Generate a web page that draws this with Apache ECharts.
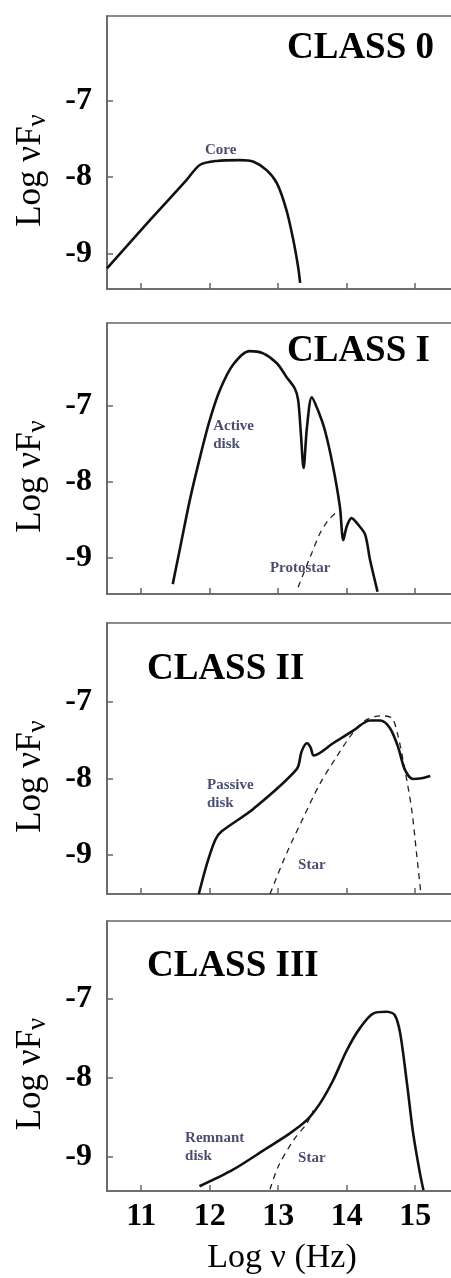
<!DOCTYPE html>
<html>
<head>
<meta charset="utf-8">
<script src="https://cdn.jsdelivr.net/npm/echarts@6/dist/echarts.min.js"></script>
<style>
  html, body { margin: 0; padding: 0; background: #fff; }
  #chart { width: 451px; height: 1278px; }
</style>
</head>
<body>
<div id="chart"></div>
<script>
  // tick values
  const xTicks = [11, 12, 13, 14, 15];
  const yTicks = [-9, -8, -7];
  const classNames = ['CLASS 0', 'CLASS I', 'CLASS II', 'CLASS III'];

  // SED curves, [log nu, log nuFnu]
  const class0Core = [[10.5, -9.19], [11.13, -8.56], [11.66, -8.04], [11.86, -7.84], [12.10, -7.79],
    [12.44, -7.78], [12.64, -7.80], [12.83, -7.91], [12.98, -8.08], [13.12, -8.43],
    [13.22, -8.82], [13.29, -9.17], [13.32, -9.38]];

  const class1Disk = [[11.46, -9.35], [11.57, -8.86], [11.71, -8.24], [11.86, -7.67], [12.00, -7.19],
    [12.15, -6.79], [12.34, -6.46], [12.58, -6.28], [12.78, -6.31], [12.98, -6.44],
    [13.12, -6.62], [13.24, -6.77], [13.29, -6.92], [13.33, -7.36], [13.37, -7.82],
    [13.42, -7.28], [13.49, -6.89], [13.58, -7.06], [13.68, -7.32], [13.80, -7.80],
    [13.90, -8.33], [13.95, -8.77], [14.00, -8.59], [14.07, -8.48], [14.17, -8.57],
    [14.27, -8.70], [14.34, -9.03], [14.45, -9.45]];
  const class1Protostar = [[13.29, -9.39], [13.49, -8.94], [13.61, -8.68], [13.73, -8.51], [13.88, -8.38]];

  const class2Disk = [[11.84, -9.52], [11.96, -9.12], [12.08, -8.81], [12.17, -8.70], [12.64, -8.40],
    [13.27, -7.88], [13.34, -7.65], [13.42, -7.54], [13.47, -7.59], [13.52, -7.70],
    [13.80, -7.54], [14.10, -7.37], [14.34, -7.24], [14.49, -7.24], [14.63, -7.34],
    [14.75, -7.59], [14.85, -7.89], [14.97, -8.01], [15.09, -8.00], [15.22, -7.97]];
  const class2Star = [[12.88, -9.52], [13.12, -8.99], [13.37, -8.51], [13.61, -8.07], [13.85, -7.72],
    [14.10, -7.39], [14.29, -7.23], [14.49, -7.18], [14.66, -7.21], [14.75, -7.45],
    [14.85, -7.89], [14.95, -8.42], [15.02, -8.99], [15.08, -9.49]];

  const class3Disk = [[11.85, -9.37], [12.34, -9.16], [12.83, -8.89], [13.17, -8.70], [13.42, -8.53],
    [13.61, -8.32], [13.80, -8.03], [14.00, -7.65], [14.19, -7.37], [14.39, -7.18],
    [14.58, -7.16], [14.70, -7.20], [14.78, -7.43], [14.88, -8.07], [14.97, -8.70],
    [15.07, -9.21], [15.12, -9.42]];
  const class3Star = [[12.88, -9.41], [13.00, -9.12], [13.22, -8.79], [13.42, -8.57], [13.51, -8.41]];

  // labels on the curves: [panel, text, x, y, align]
  const notes = [
    [0, 'Core', 12.16, -7.65, 'center'],
    [1, 'Active\ndisk', 12.05, -7.39, 'left'],
    [1, 'Protostar', 13.32, -9.14, 'center'],
    [2, 'Passive\ndisk', 11.96, -8.21, 'left'],
    [2, 'Star', 13.29, -9.14, 'left'],
    [3, 'Remnant\ndisk', 11.64, -8.88, 'left'],
    [3, 'Star', 13.29, -9.01, 'left']
  ];

  const solidSets = [class0Core, class1Disk, class2Disk, class3Disk];
  const dashSets = [null, class1Protostar, class2Star, class3Star];

  // layout per panel
  const gridTop = [16, 323, 623, 921];
  const gridHeight = [273, 271, 271, 270];
  const yRange = [[-9.46, -5.9], [-9.48, -5.91], [-9.52, -5.96], [-9.43, -6.01]];
  const titleTop = [25, 328, 646, 943];
  const titleLeft = [282, 282, 142, 142];

  const serif = '"Liberation Serif", "Times New Roman", serif';
  const frameColor = '#666';

  let grid = [], xAxis = [], yAxis = [], series = [], title = [];

  for (let i = 0; i < 4; i++) {
    let last = i === 3;
    // frame runs off the right edge of the picture
    grid.push({
      left: 107, right: -6, top: gridTop[i], height: gridHeight[i],
      outerBoundsMode: 'none',
      show: true, borderColor: frameColor, borderWidth: 1.6
    });
    title.push({
      text: classNames[i], left: titleLeft[i], top: titleTop[i],
      textStyle: { fontFamily: serif, fontWeight: 'bold', fontSize: 37, color: '#000' }
    });
    xAxis.push({
      type: 'value', gridIndex: i, min: 10.5, max: 15.61,
      axisLine: { show: true, lineStyle: { color: frameColor, width: 1.6 } },
      axisTick: { show: true, inside: true, length: 6, customValues: xTicks, lineStyle: { color: frameColor, width: 1.5 } },
      axisLabel: {
        show: last, customValues: xTicks, margin: 10,
        fontFamily: serif, fontWeight: 'bold', fontSize: 32, color: '#000'
      },
      splitLine: { show: false },
      name: last ? 'Log ν (Hz)' : '',
      nameLocation: 'middle', nameGap: 50,
      nameTextStyle: { fontFamily: serif, fontSize: 34, color: '#000' }
    });
    yAxis.push({
      type: 'value', gridIndex: i, min: yRange[i][0], max: yRange[i][1],
      axisLine: { show: true, lineStyle: { color: frameColor, width: 1.6 } },
      axisTick: { show: true, inside: true, length: 6, customValues: yTicks, lineStyle: { color: frameColor, width: 1.5 } },
      axisLabel: {
        customValues: yTicks, margin: 15,
        fontFamily: serif, fontWeight: 'bold', fontSize: 32, color: '#000'
      },
      splitLine: { show: false },
      name: '{a|Log νF}{b|ν}',
      nameLocation: 'middle', nameRotate: 90, nameGap: 56,
      nameTextStyle: {
        padding: [0, 36, 0, 0],
        rich: {
          a: { fontFamily: serif, fontSize: 35, color: '#000' },
          b: { fontFamily: serif, fontSize: 27, color: '#000', padding: [14, 0, 0, 0] }
        }
      }
    });

    series.push({
      type: 'line', xAxisIndex: i, yAxisIndex: i, data: solidSets[i],
      smooth: 0.3, symbol: 'none', lineStyle: { color: '#111', width: 2.6 }, z: 3
    });
    if (dashSets[i]) {
      series.push({
        type: 'line', xAxisIndex: i, yAxisIndex: i, data: dashSets[i],
        smooth: 0.3, symbol: 'none', lineStyle: { color: '#222', width: 1.3, type: [6, 5] }, z: 2
      });
    }
    series.push({
      type: 'scatter', xAxisIndex: i, yAxisIndex: i, symbolSize: 0, silent: true,
      data: notes.filter(n => n[0] === i).map(n => ({
        name: n[1], value: [n[2], n[3]],
        label: { position: n[4] === 'left' ? 'right' : 'inside', distance: 0, align: n[4] }
      })),
      label: {
        show: true, formatter: '{b}', verticalAlign: 'middle',
        fontFamily: serif, fontWeight: 'bold', fontSize: 15, lineHeight: 18, color: '#1c1f4a'
      }
    });
  }

  let chart = echarts.init(document.getElementById('chart'));
  chart.setOption({
    backgroundColor: '#fff',
    animation: false,
    title: title,
    grid: grid,
    xAxis: xAxis,
    yAxis: yAxis,
    series: series
  });
</script>
</body>
</html>
